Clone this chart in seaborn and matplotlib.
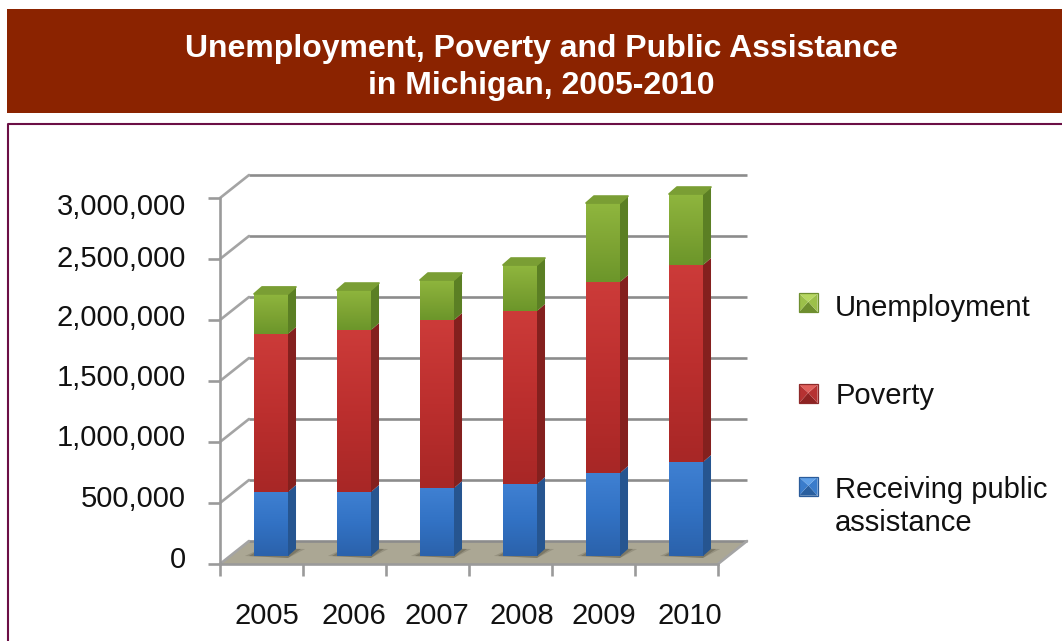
import numpy as np
import matplotlib
matplotlib.use("Agg")
import matplotlib.pyplot as plt
from matplotlib.legend_handler import HandlerBase
from matplotlib.patches import Patch, Polygon, Rectangle
from matplotlib.colors import LinearSegmentedColormap
from matplotlib.transforms import Affine2D
import seaborn as sns

years = ["2005", "2006", "2007", "2008", "2009", "2010"]
assistance = np.array([525000, 525000, 557000, 590000, 680000, 770000])
poverty = np.array([1295000, 1327000, 1377000, 1418000, 1566000, 1615000])
unemployment = np.array([328000, 328000, 328000, 377000, 647000, 582000])
y_ticks = [0, 500000, 1000000, 1500000, 2000000, 2500000, 3000000]
series_names = ["Unemployment", "Poverty", "Receiving public\nassistance"]

W, H = 1062, 641
sns.set_theme(style="white")
plt.rcParams["font.family"] = ["Liberation Sans", "DejaVu Sans"]
fig = plt.figure(figsize=(W / 100, H / 100), dpi=100, facecolor="white")

# Page furniture: banner and frame, positioned in pixels from the top left
page = Affine2D().scale(1, -1).translate(0, H)
fig.add_artist(Rectangle((7, 9), W - 7, 104, transform=page, fc="#8B2300", ec="none"))
fig.add_artist(plt.Line2D([8, 8, W], [H, 124, 124], transform=page, color="#6B0F45", lw=1.5))
fig.text(541 / W, 1 - 67.5 / H, "Unemployment, Poverty and Public Assistance\nin Michigan, 2005-2010",
         color="white", fontsize=23, fontweight="bold", ha="center", va="center", linespacing=1.33)

ax = fig.add_axes([220 / W, 1 - 564 / H, 498 / W, 366 / H])
ax.patch.set_alpha(0)
ax.set_xlim(-0.5, 5.5)
ax.set_ylim(0, 3000000)

per_px_x = 6 / 498
per_px_y = 3000000 / 366
wall_dx, wall_dy = 29 * per_px_x, 23 * per_px_y      # depth of the chart box
bar_dx, bar_dy = 9.5 * per_px_x, 8 * per_px_y        # where the bars stand on the floor
side_dx, side_dy = 8 * per_px_x, 7 * per_px_y        # depth of each bar

grid_col = "#8C8C8C"
line_w = 1.9
for s in ("top", "right"):
    ax.spines[s].set_visible(False)
for s in ("left", "bottom"):
    ax.spines[s].set_color("#9A9A9A")
    ax.spines[s].set_linewidth(line_w)

# Floor, back gridlines and the diagonals joining them to the axis
ax.add_patch(Polygon([(-0.5, 0), (5.5, 0), (5.5 + wall_dx, wall_dy), (-0.5 + wall_dx, wall_dy)],
                     fc="#ABA794", ec="none", zorder=0.5, clip_on=False))
for v in y_ticks:
    ax.plot([-0.5 + wall_dx, 5.5 + wall_dx], [v + wall_dy] * 2, color=grid_col, lw=line_w,
            zorder=1, clip_on=False, solid_capstyle="butt")
    ax.plot([-0.5, -0.5 + wall_dx], [v, v + wall_dy], color="#A4A4A4", lw=line_w, zorder=1, clip_on=False)
ax.plot([5.5, 5.5 + wall_dx], [0, wall_dy], color="#A4A4A4", lw=line_w, zorder=1, clip_on=False)

xs = np.arange(len(years))
totals = assistance + poverty + unemployment

# Soft shadows where the bars meet the floor
for x in xs:
    left = x + bar_dx - 0.205
    right = x + bar_dx + 0.205 + side_dx
    for grow, alpha in ((0.11, 0.18), (0.06, 0.28)):
        ax.add_patch(Polygon([(left - grow, bar_dy), (right - side_dx, bar_dy - 2 * per_px_y),
                              (right + grow, bar_dy + side_dy), (left + side_dx, bar_dy + side_dy + 1 * per_px_y)],
                             fc="#3A3626", ec="none", alpha=alpha, zorder=1.5, clip_on=False))

layers = [
    (assistance, np.zeros(6), "#3272C4", "#3F80D2", "#2B62AB", "#265590"),
    (poverty, assistance, "#BC2F2E", "#CC3B39", "#A82726", "#84201E"),
    (unemployment, assistance + poverty, "#7FA534", "#8FB63E", "#6C962A", "#5B7F24"),
]

for values, base, face, light, dark, side in layers:
    before = len(ax.patches)
    sns.barplot(x=years, y=values, bottom=base + bar_dy, color=face, saturation=1,
                width=0.41, ax=ax, zorder=3, clip_on=False, linewidth=0, legend=False)
    bars = ax.patches[before:]
    cmap = LinearSegmentedColormap.from_list("face", [light, face, dark])
    for x, bar, v, b in zip(xs, bars, values, base):
        bar.set_x(bar.get_x() + bar_dx)
        x0, x1 = bar.get_x(), bar.get_x() + bar.get_width()
        y0, y1 = b + bar_dy, b + v + bar_dy
        # Shaded front face laid over the seaborn bar
        shade = np.linspace(0, 1, 64)[:, None]
        ax.imshow(shade, extent=(x0, x1, y0, y1), origin="upper", aspect="auto",
                  cmap=cmap, zorder=3.1, clip_on=False, interpolation="bilinear")
        # Receding side of the bar
        ax.add_patch(Polygon([(x1, y0), (x1 + side_dx, y0 + side_dy),
                              (x1 + side_dx, y1 + side_dy), (x1, y1)],
                             fc=side, ec="none", zorder=3.2, clip_on=False))
ax.set_xlim(-0.5, 5.5)
ax.set_ylim(0, 3000000)
ax.set_aspect("auto")

# Rounded top cap of each stack
for x, t in zip(xs, totals):
    x0 = x + bar_dx - 0.205
    x1 = x + bar_dx + 0.205
    y1 = t + bar_dy
    ax.add_patch(Polygon([(x0, y1), (x1, y1), (x1 + side_dx, y1 + side_dy), (x0 + side_dx, y1 + side_dy)],
                         fc="#7A9E34", ec="#7A9E34", lw=1.2, joinstyle="round", zorder=3.3, clip_on=False))

# Axis ticks and labels; the labels sit a little off their ticks
ax.set_yticks(y_ticks)
ax.set_yticklabels([f"{v:,}" for v in y_ticks])
ax.set_xticks(np.arange(-0.5, 6, 1))
ax.set_xticklabels([])
ax.tick_params(axis="both", which="major", direction="out", length=8.5, width=line_w,
               color="#9A9A9A", left=True, bottom=True, labelsize=21, labelcolor="#111111")
ax.tick_params(axis="y", pad=16)
y_shift = [7, 7, 7, 6, 5, 3, -6]
for lab, dy in zip(ax.get_yticklabels(), y_shift):
    lab.set_transform(lab.get_transform() + Affine2D().translate(0, dy))
year_px = [267, 354, 437, 522, 604, 690]
for label, px in zip(years, year_px):
    fig.text(px / W, 1 - 616 / H, label, fontsize=21, color="#111111", ha="center", va="center")


class BevelHandler(HandlerBase):
    """Legend key drawn as a small bevelled square; lift raises it above the text centre."""

    def __init__(self, tones, edge, lift=0):
        super().__init__()
        self.tones, self.edge, self.lift = tones, edge, lift

    def create_artists(self, legend, orig, xd, yd, width, height, fontsize, trans):
        side = 13.4
        x0, y0 = -xd, -yd + (height - side) / 2 + self.lift
        c = (x0 + side / 2, y0 + side * 0.55)
        a, b, d, e = (x0, y0), (x0 + side, y0), (x0 + side, y0 + side), (x0, y0 + side)
        top, mid, low = self.tones
        tri = [((a, b, c), low), ((b, d, c), mid), ((d, e, c), top), ((e, a, c), mid)]
        parts = [Polygon(p, fc=col, ec="none", transform=trans) for p, col in tri]
        parts.append(Polygon((a, b, d, e), fc="none", ec=self.edge, lw=0.9, transform=trans))
        return parts


tones = [("#B6D761", "#9CC04A", "#6E8E2E"), ("#E0605C", "#B63232", "#8E2322"), ("#5FA0E8", "#3A7CCB", "#2A5F9F")]
edges = ["#6F8F30", "#8E2A2A", "#2B5C9A"]
lifts = [2.2, 0, 15]
anchors = [(799, 294), (799, 382), (799, 476)]

# One legend per entry so that each row keeps its own vertical place
for name, tone, edge, lift, (px, py) in zip(series_names, tones, edges, lifts, anchors):
    handle = Patch(label=name)
    leg = fig.legend(handles=[handle], labels=[name],
                     handler_map={handle: BevelHandler(tone, edge, lift)},
                     loc="upper left", bbox_to_anchor=(px / W, 1 - py / H), frameon=False,
                     fontsize=21, labelcolor="#111111", handlelength=0.64, handletextpad=0.6,
                     borderaxespad=0, borderpad=0)
    for t in leg.get_texts():
        t.set_linespacing(1.22)

fig.savefig("out.png", dpi=100, facecolor="white")
